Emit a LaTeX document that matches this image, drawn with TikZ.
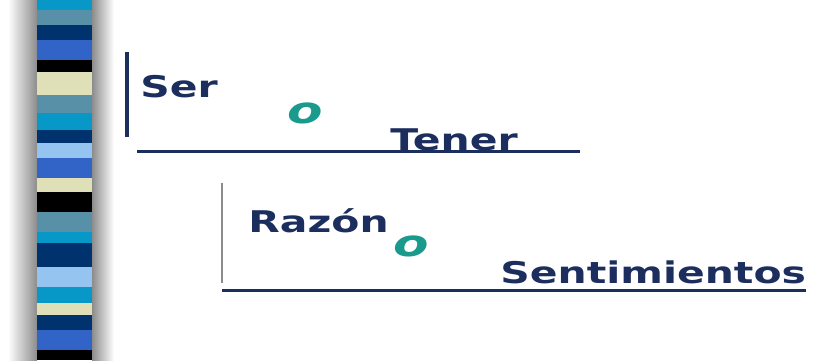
\documentclass[tikz,border=0pt]{standalone}
\usepackage{fontspec}
\usepackage{xcolor}
\setmainfont{DejaVu Sans}
\definecolor{navy}{RGB}{28,46,94}
\definecolor{tealo}{RGB}{26,154,140}
\definecolor{sdark}{RGB}{0,50,110}
\definecolor{sroyal}{RGB}{50,100,200}
\definecolor{ssteel}{RGB}{88,144,168}
\definecolor{scyan}{RGB}{8,152,200}
\definecolor{slight}{RGB}{150,196,240}
\definecolor{sbeige}{RGB}{224,224,184}
\tikzset{
  word/.style={font=\bfseries\fontsize{17}{20}\selectfont, text=navy, inner sep=0pt, anchor=base west, xscale=1.37},
  orword/.style={font=\bfseries\itshape\fontsize{21}{24}\selectfont, text=tealo, inner sep=0pt, anchor=base west, xscale=1.4},
  rule/.style={navy, line width=1.7pt}
}

\begin{document}
\begin{tikzpicture}[x=0.02cm, y=-0.02cm]
\useasboundingbox (0,0) rectangle (822,360);

% striped bar on the left
\shade[left color=white, right color=black!45] (8,0) rectangle (37,360);
\shade[left color=black!45, right color=white] (92,0) rectangle (114,360);
\foreach \ya/\yb/\col in {0/10/scyan, 10/25/ssteel, 25/40/sdark, 40/60/sroyal,
    60/72/black, 72/95/sbeige, 95/113/ssteel, 113/130/scyan, 130/143/sdark,
    143/158/slight, 158/178/sroyal, 178/192/sbeige, 192/212/black,
    212/232/ssteel, 232/243/scyan, 243/267/sdark, 267/287/slight,
    287/303/scyan, 303/315/sbeige, 315/330/sdark, 330/350/sroyal, 350/360/black}
  \fill[\col] (37,\ya) rectangle (92,\yb);

% first pair
\coordinate (ta) at (127,52);
\coordinate (tb) at (127,137);
\coordinate (tc) at (137,151);
\coordinate (td) at (580,151);
\draw[rule, line width=2pt] (ta) -- (tb);
\draw[rule] (tc) -- (td);
\node[word] (ser) at (140,97) {Ser};
\node[orword] (o1) at (287,123) {o};
\node[word] (tener) at (390,150) {Tener};

% second pair
\coordinate (ba) at (222,183);
\coordinate (bb) at (222,283);
\coordinate (bc) at (222,290);
\coordinate (bd) at (806,290);
\draw[black!45, line width=0.8pt] (ba) -- (bb);
\draw[rule] (bc) -- (bd);
\node[word] (razon) at (248,232) {Razón};
\node[orword] (o2) at (393,256) {o};
\node[word] (sentimientos) at (500,283) {Sentimientos};
\end{tikzpicture}
\end{document}
